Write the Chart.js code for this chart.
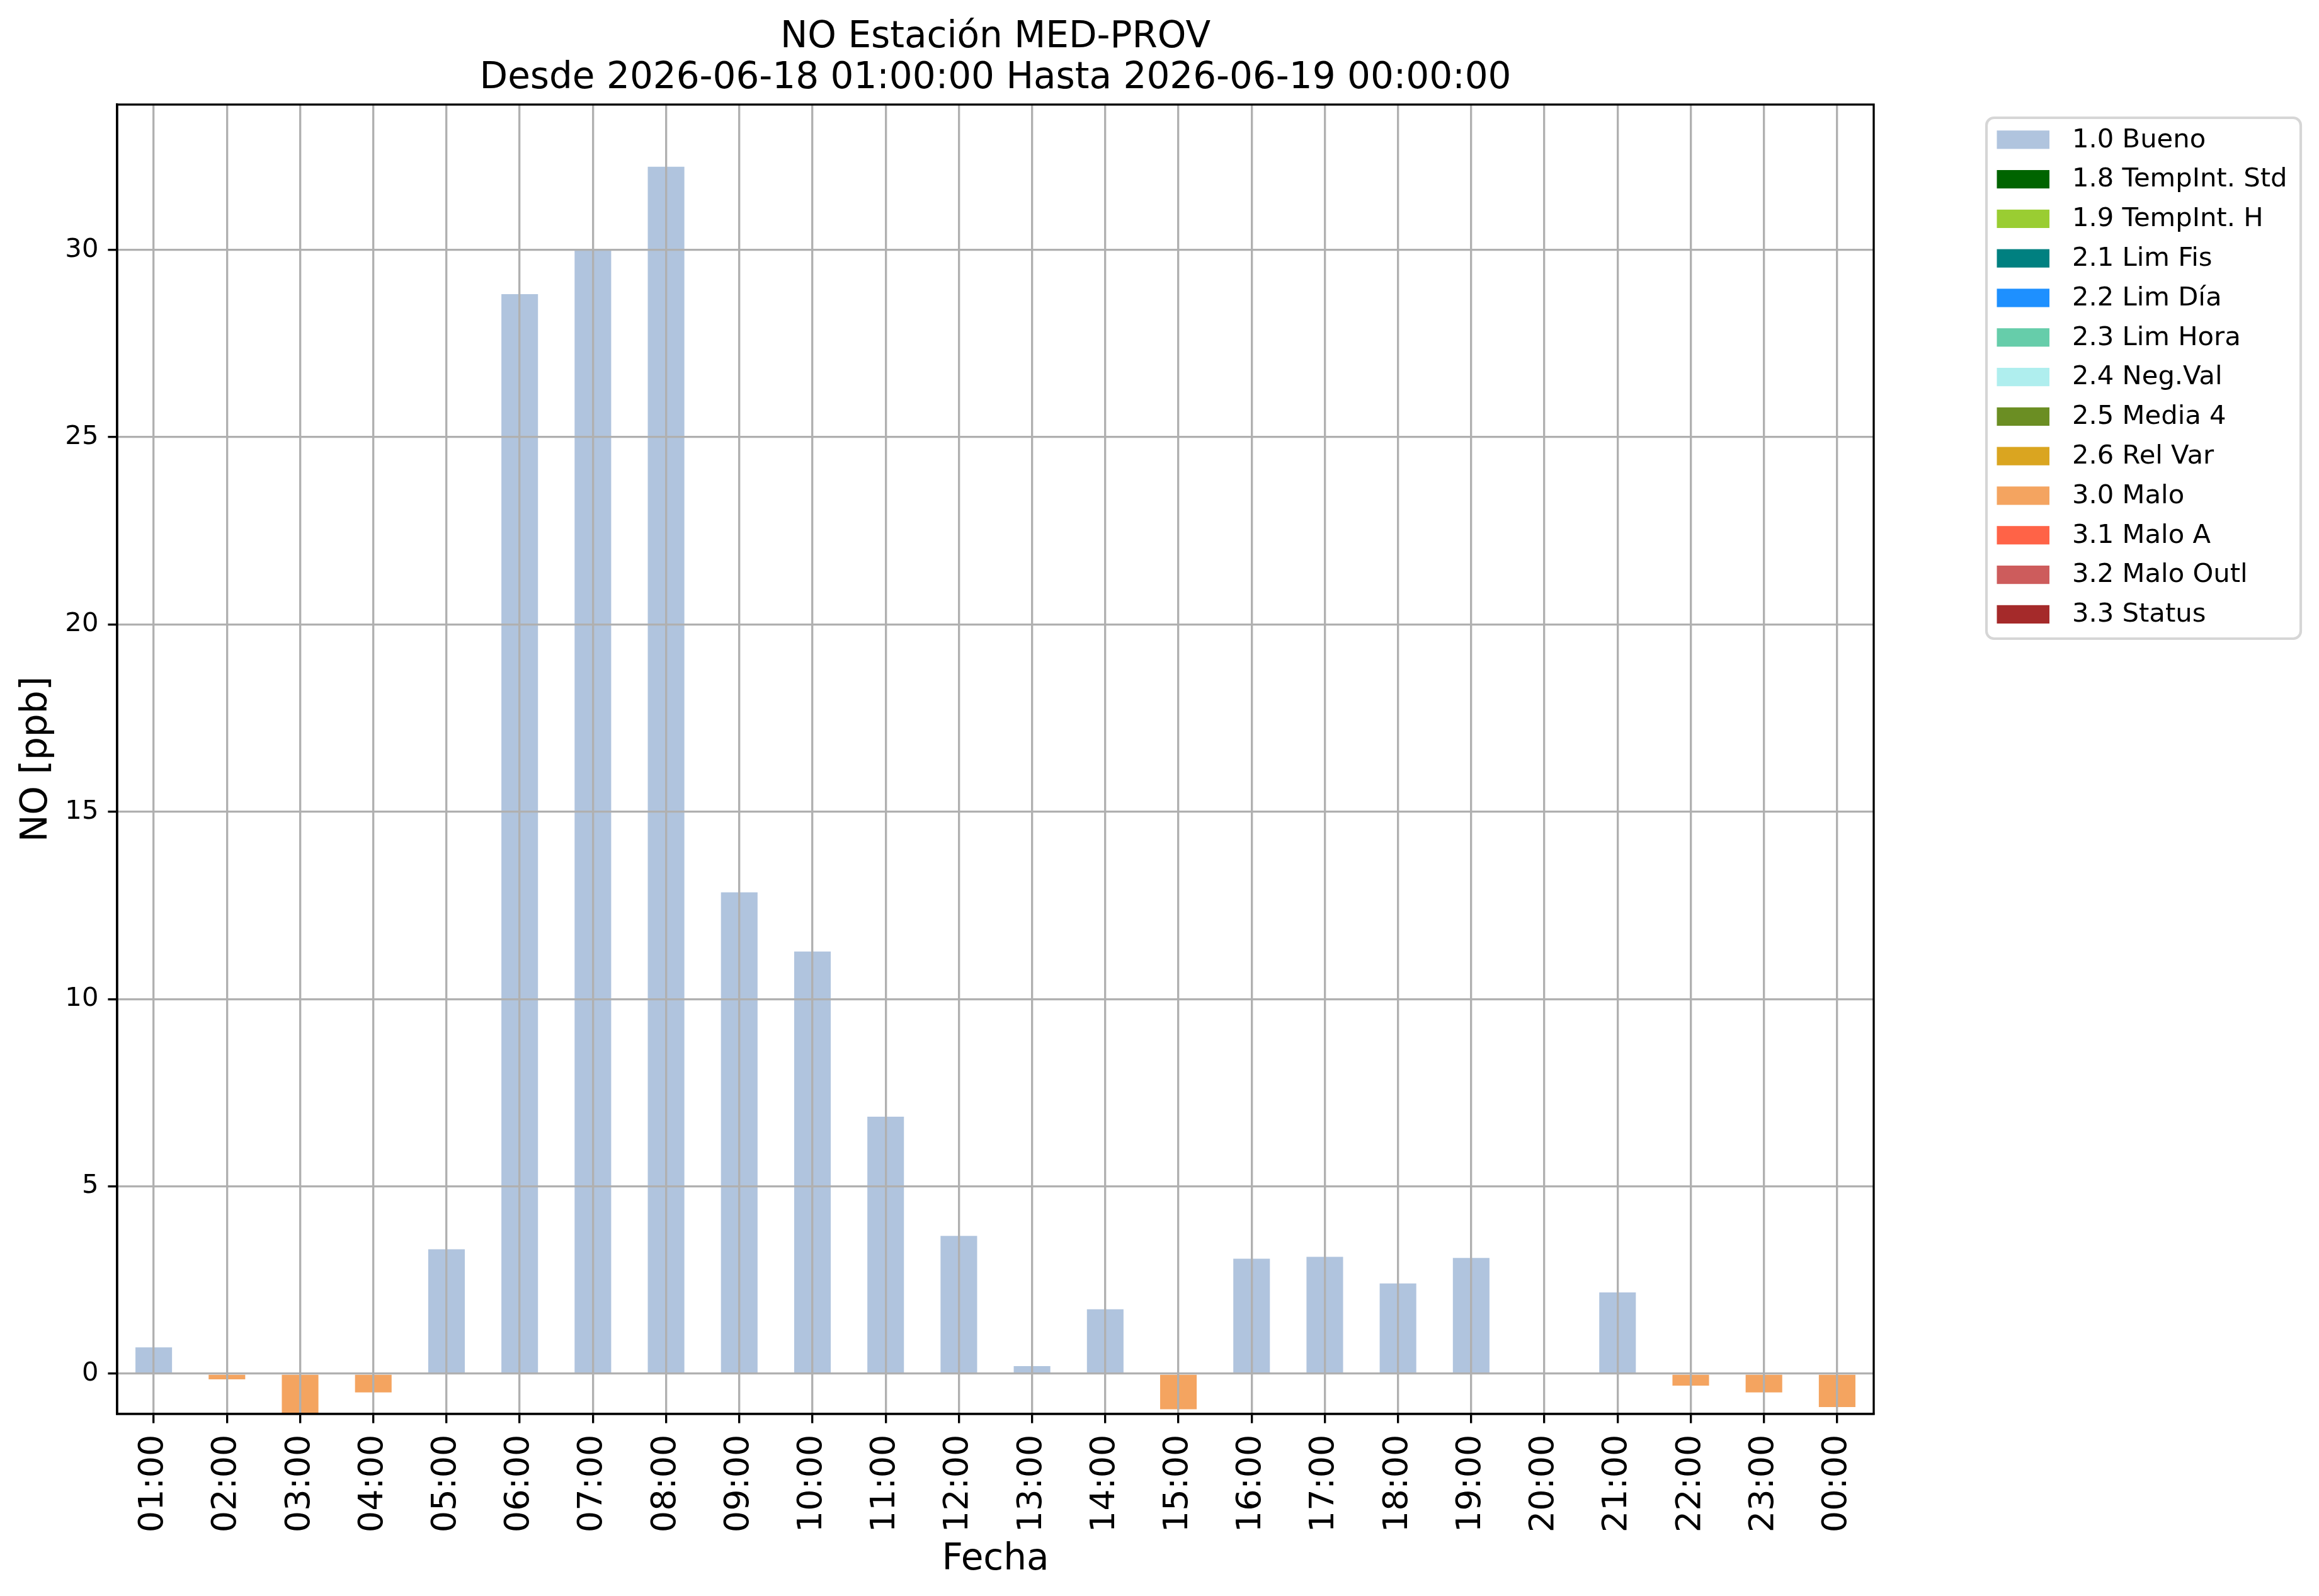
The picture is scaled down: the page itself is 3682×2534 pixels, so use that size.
<!DOCTYPE html>
<html>
<head>
<meta charset="utf-8">
<script src="https://cdn.jsdelivr.net/npm/chart.js@4.4.0/dist/chart.umd.min.js"></script>
<style>
html,body{margin:0;padding:0;background:#ffffff;}
#wrap{width:3682px;height:2534px;position:relative;}
canvas{display:block;}
</style>
</head>
<body>
<div id="wrap"><canvas id="c" width="3682" height="2534"></canvas></div>
<script>
// ---- data ----
const hours = ['01:00','02:00','03:00','04:00','05:00','06:00','07:00','08:00','09:00','10:00','11:00','12:00',
               '13:00','14:00','15:00','16:00','17:00','18:00','19:00','20:00','21:00','22:00','23:00','00:00'];
const buenoValues = [0.70, null, null, null, 3.32, 28.82, 30.00, 32.22, 12.85, 11.27, 6.86, 3.68,
                     0.20, 1.72, null, 3.07, 3.12, 2.41, 3.09, null, 2.17, null, null, null];
const maloValues  = [null, -0.15, -1.08, -0.50, null, null, null, null, null, null, null, null,
                     null, null, -0.95, null, null, null, null, null, null, -0.32, -0.50, -0.89];
const flagNames  = ['1.0 Bueno','1.8 TempInt. Std','1.9 TempInt. H','2.1 Lim Fis','2.2 Lim Día','2.3 Lim Hora',
                    '2.4 Neg.Val','2.5 Media 4','2.6 Rel Var','3.0 Malo','3.1 Malo A','3.2 Malo Outl','3.3 Status'];
const flagColors = ['#b0c4de','#006400','#9acd32','#008080','#1e90ff','#66cdaa',
                    '#afeeee','#6b8e23','#daa520','#f4a460','#ff6347','#cd5c5c','#a52a2a'];
const yTicks = [0, 5, 10, 15, 20, 25, 30];
const titleLines = ['NO Estación MED-PROV', 'Desde 2026-06-18 01:00:00 Hasta 2026-06-19 00:00:00'];
const xTitle = 'Fecha';
const yTitle = 'NO [ppb]';

const FONT = "'DejaVu Sans', 'Liberation Sans', sans-serif";
const LW = 3.33;

const datasets = flagNames.map((name, i) => {
  let vals = hours.map(() => null);
  if (name === '1.0 Bueno') vals = buenoValues;
  if (name === '3.0 Malo') vals = maloValues;
  return {
    label: name,
    data: vals,
    backgroundColor: flagColors[i],
    borderWidth: 0,
    barPercentage: 0.5,
    categoryPercentage: 1.0
  };
});

const decorPlugin = {
  id: 'decor',
  afterDraw(chart) {
    const ctx = chart.ctx;
    const a = chart.chartArea;
    ctx.save();
    // frame (spines)
    ctx.strokeStyle = '#000000';
    ctx.lineWidth = LW;
    ctx.strokeRect(a.left, a.top, a.right - a.left, a.bottom - a.top);
    // title
    ctx.fillStyle = '#000000';
    ctx.textAlign = 'center';
    ctx.textBaseline = 'alphabetic';
    ctx.font = '58px ' + FONT;
    const cx = (a.left + a.right) / 2;
    ctx.fillText(titleLines[0], cx, 75);
    ctx.fillText(titleLines[1], cx, 140);
    // x title
    ctx.fillText(xTitle, cx, 2492);
    // y title
    ctx.save();
    ctx.translate(74, (a.top + a.bottom) / 2);
    ctx.rotate(-Math.PI / 2);
    ctx.fillText(yTitle, 0, 0);
    ctx.restore();
    // legend
    const lx = 3154, ly = 187, lw = 3653 - 3154, lh = 1014 - 187, r = 12;
    ctx.fillStyle = 'rgba(255,255,255,0.8)';
    ctx.strokeStyle = '#d6d6d6';
    ctx.lineWidth = 4.17;
    ctx.beginPath();
    ctx.moveTo(lx + r, ly);
    ctx.lineTo(lx + lw - r, ly);
    ctx.arcTo(lx + lw, ly, lx + lw, ly + r, r);
    ctx.lineTo(lx + lw, ly + lh - r);
    ctx.arcTo(lx + lw, ly + lh, lx + lw - r, ly + lh, r);
    ctx.lineTo(lx + r, ly + lh);
    ctx.arcTo(lx, ly + lh, lx, ly + lh - r, r);
    ctx.lineTo(lx, ly + r);
    ctx.arcTo(lx, ly, lx + r, ly, r);
    ctx.closePath();
    ctx.fill();
    ctx.stroke();
    ctx.font = '41.7px ' + FONT;
    ctx.textAlign = 'left';
    ctx.textBaseline = 'middle';
    chart.data.datasets.forEach((ds, i) => {
      const yc = 221.8 + i * 62.8;
      ctx.fillStyle = ds.backgroundColor;
      ctx.fillRect(3170.5, yc - 14.6, 83.5, 29.2);
      ctx.fillStyle = '#000000';
      ctx.fillText(ds.label, 3290, yc + 1);
    });
    ctx.restore();
  }
};

new Chart(document.getElementById('c'), {
  type: 'bar',
  data: { labels: hours, datasets: datasets },
  options: {
    responsive: false,
    devicePixelRatio: 1,
    animation: false,
    layout: { padding: { left: 0, top: 166, right: 707, bottom: 0 } },
    plugins: { legend: { display: false }, title: { display: false }, tooltip: { enabled: false } },
    scales: {
      x: {
        stacked: true,
        offset: true,
        grid: { display: true, offset: false, color: '#b0b0b0', lineWidth: LW, z: 1,
                drawTicks: true, tickLength: 14.6, tickColor: '#000000', tickWidth: LW },
        border: { display: true, color: '#000000', width: LW, z: 1 },
        ticks: { autoSkip: false, minRotation: 90, maxRotation: 90, padding: 18, color: '#000000',
                 font: { family: FONT, size: 54 } },
        afterFit(scale) { scale.height = 2534 - 2245; }
      },
      y: {
        stacked: true,
        min: -1.076,
        max: 33.88,
        grid: { display: true, color: '#b0b0b0', lineWidth: LW, z: 1,
                drawTicks: true, tickLength: 14.6, tickColor: '#000000', tickWidth: LW },
        border: { display: true, color: '#000000', width: LW, z: 1 },
        ticks: { padding: 15, color: '#000000', font: { family: FONT, size: 41.7 } },
        afterBuildTicks(scale) { scale.ticks = yTicks.map(v => ({ value: v })); },
        afterFit(scale) { scale.width = 186; }
      }
    }
  },
  plugins: [decorPlugin]
});
</script>
</body>
</html>
